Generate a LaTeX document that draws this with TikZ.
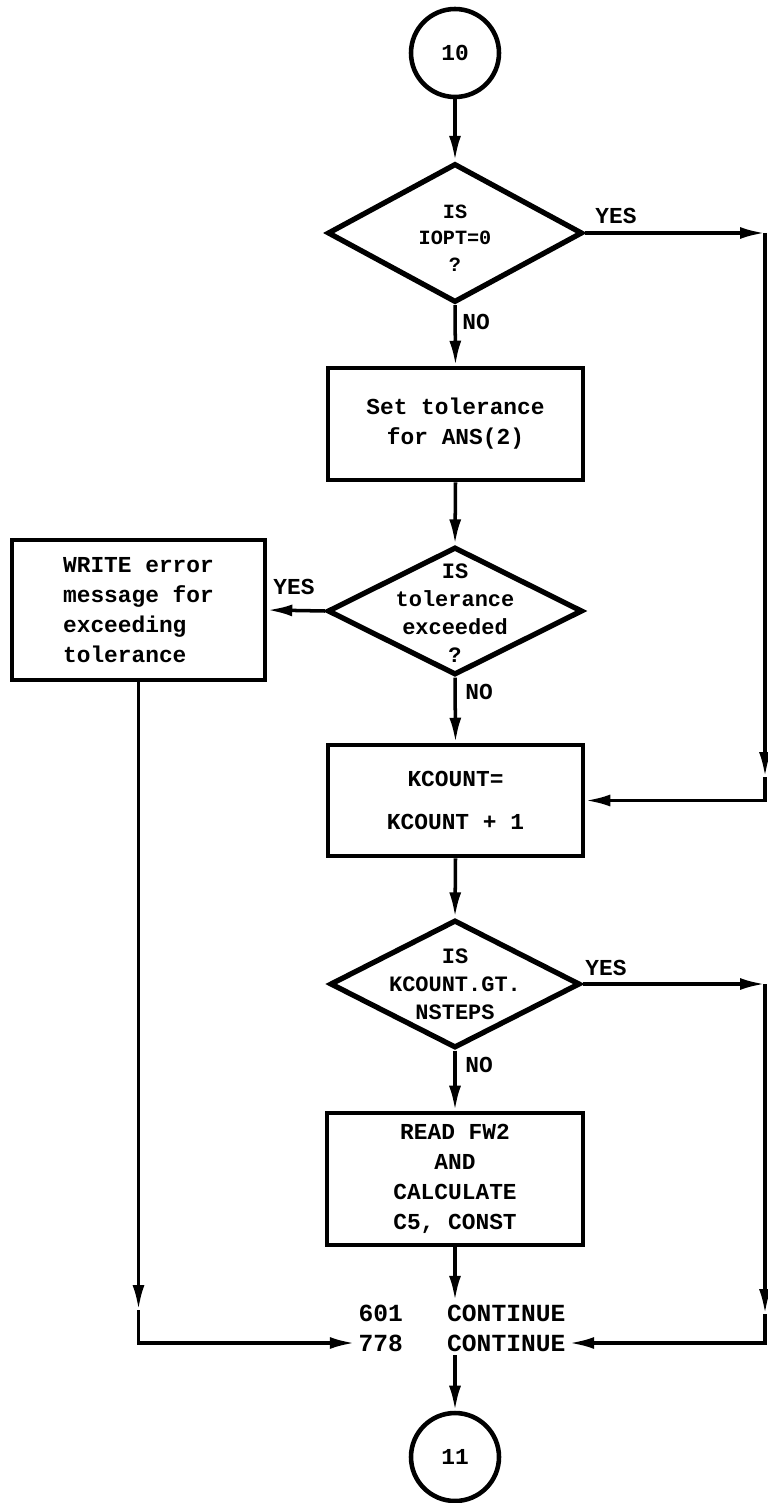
\documentclass[tikz,border=0pt]{standalone}
\usepackage{fontspec}
\setmonofont{Liberation Mono}
\usetikzlibrary{shapes.geometric,arrows.meta}

\tikzset{
  box/.style={draw, line width=2.6pt, minimum width=5.1cm, align=center, inner sep=0pt},
  decision/.style={draw, diamond, line width=3pt, inner sep=0pt, minimum width=5.1cm},
  askt/.style={align=center, inner sep=0pt, font=\ttfamily\bfseries\fontsize{12.5}{16}\selectfont},
  connector/.style={draw, circle, line width=2.6pt, minimum size=1.76cm, inner sep=0pt},
  flow/.style={line width=2pt, -{Latex[length=5mm,width=2.4mm]}},
  tag/.style={inner sep=0pt, font=\ttfamily\bfseries\fontsize{13}{15}\selectfont},
  cont/.style={inner sep=2pt, font=\ttfamily\bfseries\fontsize{14}{16}\selectfont}
}

\begin{document}
\begin{tikzpicture}[x=0.02cm, y=-0.02cm, font=\ttfamily\bfseries\fontsize{13}{17}\selectfont]
% Page frame (767 x 1503 px)
\useasboundingbox (0,0) rectangle (767,1503);

% Entry connector
\node[connector] (c10) at (455,53) {10};

% First test
\node[decision, minimum height=2.78cm] (isopt) at (455,233) {};
\node[askt, font=\ttfamily\bfseries\fontsize{11.5}{15}\selectfont] (isopttext) at (455,238) {IS\\IOPT=0\\?};

% Tolerance
\node[box, minimum height=2.24cm] (settol) at (455.5,424) {Set tolerance\\for ANS(2)};
\node[decision, minimum height=2.56cm] (istol) at (455,611) {};
\node[askt] (istoltext) at (455,613) {IS\\tolerance\\exceeded\\?};
\node[box, minimum width=5.06cm, minimum height=2.8cm, align=left] (write) at (138.5,610) {WRITE error\\message for\\exceeding\\tolerance};

% Counter
\node[box, minimum height=2.22cm] (kcount) at (455.5,800.5) {KCOUNT=\\[7pt]KCOUNT + 1};
\node[decision, minimum width=5.0cm, minimum height=2.56cm] (kgt) at (455,984) {};
\node[askt] (kgttext) at (455,984) {IS\\KCOUNT.GT.\\NSTEPS};

% Read
\node[box, minimum width=5.12cm, minimum height=2.64cm] (readfw) at (455,1179) {READ FW2\\AND\\CALCULATE\\C5, CONST};

% Continue statements
\node[cont] (c601) at (462,1313) {601\ \ \ CONTINUE};
\node[cont] (c778) at (462,1343) {778\ \ \ CONTINUE};

% Exit connector
\node[connector] (c11) at (455,1457) {11};

% Branch labels
\node[tag] (yes1) at (616,216) {YES};
\node[tag] (no1) at (476,322) {NO};
\node[tag] (yes2) at (294,587) {YES};
\node[tag] (no2) at (479,692) {NO};
\node[tag] (yes3) at (606,968) {YES};
\node[tag] (no3) at (479,1065) {NO};

% Bend points
\coordinate (ryes1) at (765,233);
\coordinate (rdown1) at (765,777);
\coordinate (ryes2) at (765,984);
\coordinate (rdown2) at (765,1314);
\coordinate (ldown) at (138.5,1310);

% Main line
\draw[flow] (c10) -- (isopt.north);
\draw[flow] (isopt.south) -- (settol.north);
\draw[flow] (settol.south) -- (istol.north);
\draw[flow] (istol.south) -- (kcount.north);
\draw[flow] (kcount.south) -- (kgt.north);
\draw[flow] (kgt.south) -- (readfw.north);
\draw[flow] (readfw.south) -- (readfw.south |- c601.north);
\draw[flow] (c11.north |- c778.south) -- (c11.north);

% YES branches
\draw[flow] (istol.west) -- (write.east);
\draw[flow] (isopt.east) -- (ryes1);
\draw[flow] (ryes1) -- (rdown1);
\draw[flow] (rdown1) |- (kcount.east);
\draw[flow] (kgt.east) -- (ryes2);
\draw[flow] (ryes2) -- (rdown2);
\draw[flow] (rdown2) |- (c778.east);
\draw[flow] (write.south) -- (ldown);
\draw[flow] (ldown) |- (c778.west);
\end{tikzpicture}
\end{document}
